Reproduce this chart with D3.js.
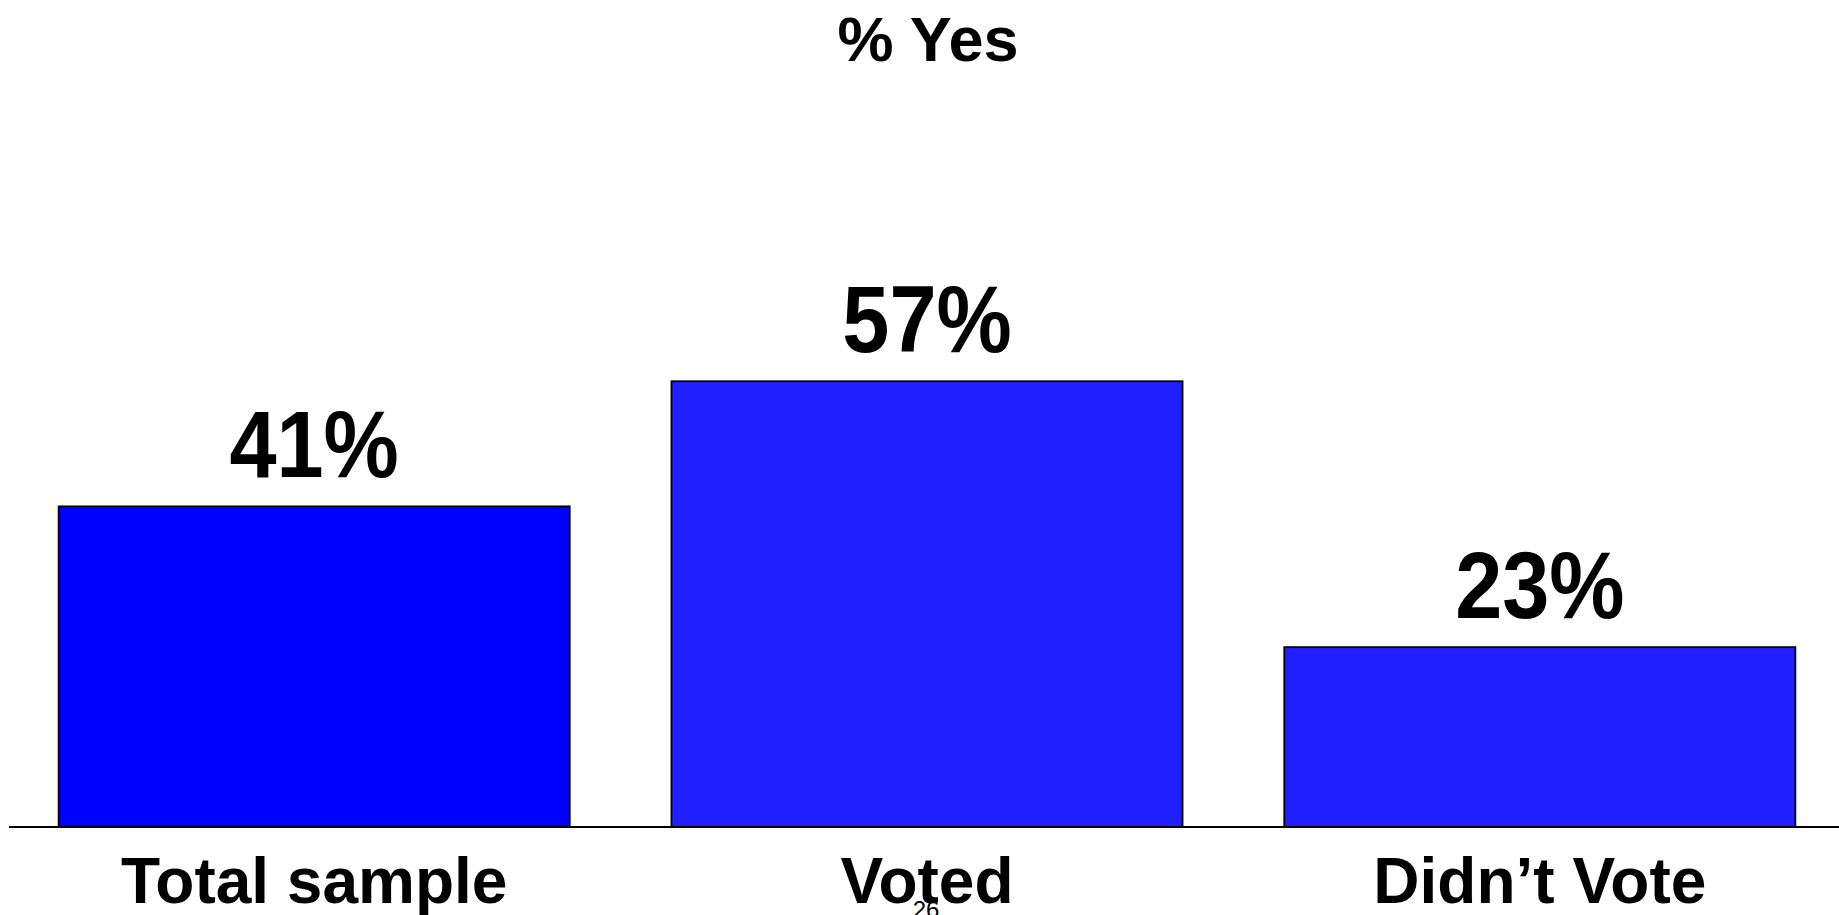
<!DOCTYPE html>
<html>
<head>
<meta charset="utf-8">
<script src="https://cdn.jsdelivr.net/npm/d3@7"></script>
<style>
  body { margin: 0; background: #fff; }
  svg { display: block; }
</style>
</head>
<body>
<div id="chart"></div>
<script>
// chart data
const categories = ['Total sample', 'Voted', 'Didn\u2019t Vote'];
const values = [41, 57, 23];
const barColors = ['#0000ff', '#1f1fff', '#1f1fff'];
const titleText = '% Yes';
const pageNumber = '26';

const width = 1839, height = 915;
const baseline = 827;

const svg = d3.select('#chart').append('svg')
    .attr('width', width)
    .attr('height', height);

const x = d3.scaleBand()
    .domain(categories)
    .range([9, 1845])
    .paddingInner(0.166)
    .paddingOuter(0.081);

const y = d3.scaleLinear()
    .domain([0, 100])
    .range([baseline, 45]);

// bars
svg.selectAll('rect.bar')
    .data(values)
    .enter().append('rect')
    .attr('class', 'bar')
    .attr('x', (d, i) => x(categories[i]))
    .attr('y', d => y(d))
    .attr('width', x.bandwidth())
    .attr('height', d => y(0) - y(d))
    .attr('fill', (d, i) => barColors[i])
    .attr('stroke', '#000')
    .attr('stroke-width', 1.8);

// baseline
svg.append('line')
    .attr('x1', 9).attr('x2', width)
    .attr('y1', baseline).attr('y2', baseline)
    .attr('stroke', '#000')
    .attr('stroke-width', 2);

// value labels
svg.selectAll('text.val')
    .data(values)
    .enter().append('text')
    .attr('class', 'val')
    .attr('transform', (d, i) => `translate(${x(categories[i]) + x.bandwidth() / 2}, ${y(d) - 29}) scale(0.9, 1)`)
    .attr('text-anchor', 'middle')
    .style('font-family', 'Liberation Sans, Arial, sans-serif')
    .style('font-weight', 'bold')
    .style('font-size', '94px')
    .text(d => d + '%');

// category labels
svg.selectAll('text.cat')
    .data(categories)
    .enter().append('text')
    .attr('class', 'cat')
    .attr('x', d => x(d) + x.bandwidth() / 2)
    .attr('y', 903)
    .attr('text-anchor', 'middle')
    .style('font-family', 'Liberation Sans, Arial, sans-serif')
    .style('font-weight', 'bold')
    .style('font-size', '64px')
    .text(d => d);

// title
svg.append('text')
    .attr('x', 928)
    .attr('y', 61)
    .attr('text-anchor', 'middle')
    .style('font-family', 'Liberation Sans, Arial, sans-serif')
    .style('font-weight', 'bold')
    .style('font-size', '63px')
    .text(titleText);

// page number
svg.append('text')
    .attr('x', 926)
    .attr('y', 918)
    .attr('text-anchor', 'middle')
    .style('font-family', 'Liberation Sans, Arial, sans-serif')
    .style('font-size', '24px')
    .text(pageNumber);
</script>
</body>
</html>
